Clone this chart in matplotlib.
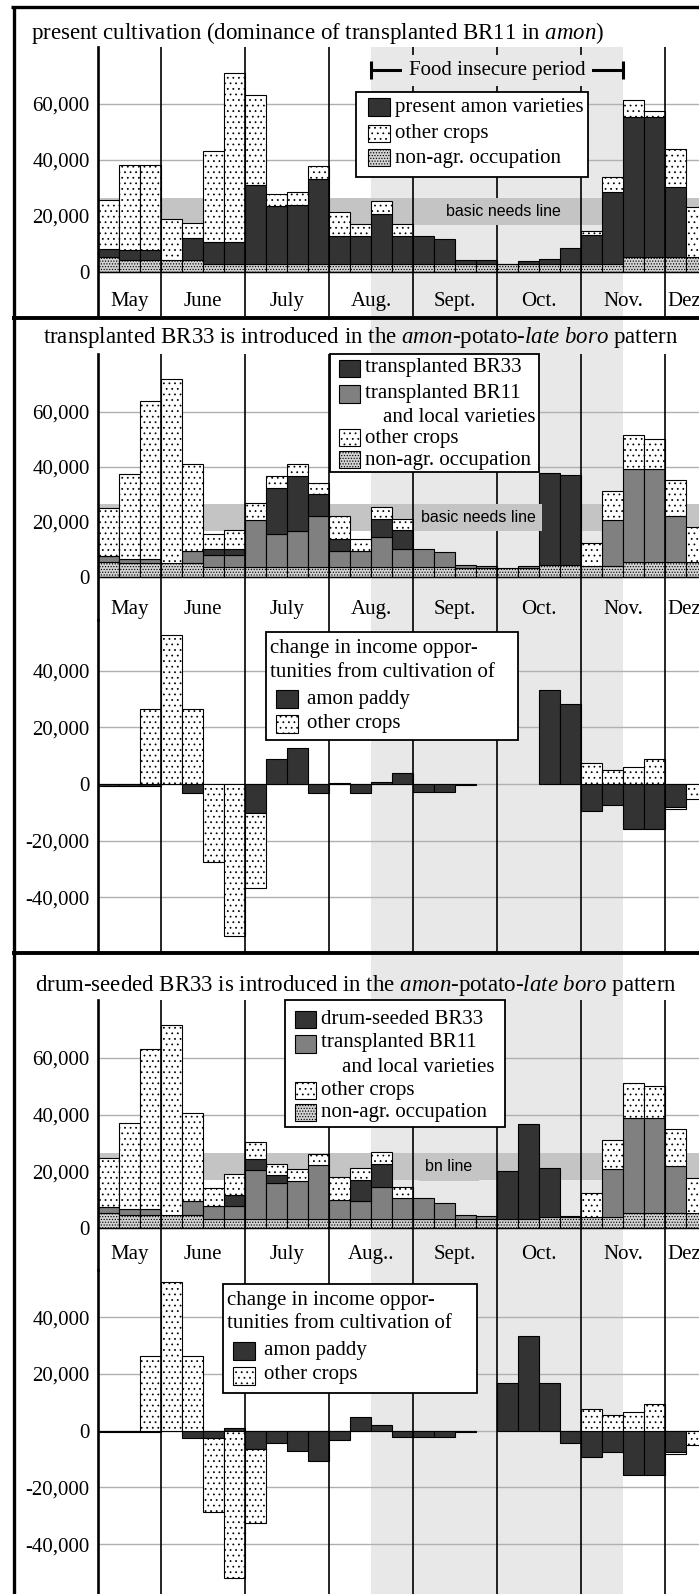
import numpy as np
import matplotlib
matplotlib.use('Agg')
import matplotlib.pyplot as plt
from matplotlib.patches import Rectangle

plt.rcParams['font.family'] = ['Liberation Serif', 'DejaVu Serif']
plt.rcParams['mathtext.fontset'] = 'custom'
plt.rcParams['mathtext.rm'] = 'Liberation Serif'
plt.rcParams['mathtext.it'] = 'Liberation Serif:italic'
plt.rcParams['hatch.linewidth'] = 0.55

# ---- data (one bar per week, May w1 .. Dez w2) ----
months = ['May', 'June', 'July', 'Aug.', 'Sept.', 'Oct.', 'Nov.', 'Dez']
months_p4 = ['May', 'June', 'July', 'Aug..', 'Sept.', 'Oct.', 'Nov.', 'Dez']
month_starts = [0, 3, 7, 11, 15, 19, 23, 27]
month_ends = [3, 7, 11, 15, 19, 23, 27, 31]
food_insecure = (13, 25)
basic_needs = (16800, 26500)

p1_nonagr = [5400, 4400, 4400, 4400, 4400, 3000, 3000, 3000, 3000, 3000, 3000, 3000, 3000, 3000, 3000,
             3000, 3000, 2800, 2800, 2800, 2800, 3000, 3000, 3000, 3000, 5400, 5400, 5400, 5400]
p1_amon = [2900, 3300, 3300, 0, 7800, 7800, 7800, 28200, 20500, 21100, 30400, 9700, 9700, 17800, 9700,
           9900, 8800, 1600, 1400, 200, 1100, 1750, 5700, 10200, 25700, 49800, 49800, 24900, 0]
p1_other = [17600, 30700, 30700, 14600, 5300, 32300, 60200, 32100, 4400, 4400, 4300, 8700, 4300, 4400, 4300,
            0, 0, 0, 0, 0, 0, 0, 0, 1400, 5200, 6300, 2400, 13700, 17800]

p2_nonagr = [5300, 5100, 5100, 5100, 5100, 3500, 3500, 3500, 3500, 3500, 3500, 3500, 3500, 3500, 3500,
             3500, 3500, 3300, 3300, 3300, 3300, 4500, 4500, 4100, 4100, 5300, 5300, 5300, 5300]
p2_br11 = [2200, 1400, 1400, 0, 4200, 4600, 4600, 17300, 12300, 13100, 18600, 6100, 5800, 10900, 6800,
           6800, 5500, 1200, 800, 0, 600, 0, 0, 0, 16700, 34000, 34000, 16800, 0]
p2_br33 = [0, 0, 0, 0, 0, 2100, 2100, 0, 16600, 20200, 8200, 4200, 0, 6700, 6900,
           0, 0, 0, 0, 0, 0, 33300, 32500, 0, 0, 0, 0, 0, 0]
p2_other = [17600, 31000, 57400, 67000, 31800, 5600, 7000, 6100, 4400, 4300, 3900, 8300, 4500, 4400, 3900,
            0, 0, 0, 0, 0, 0, 0, 0, 8300, 10300, 12500, 11000, 13000, 12700]

p3_amon = [-600, -600, -600, 0, -3000, 0, 0, -10300, 8900, 12700, -3300, 500, -3000, 800, 4000,
           -2700, -2700, -300, 0, 0, 0, 33200, 28200, -9400, -7400, -15800, -15800, -8200, 0]
p3_other = [0, 0, 26500, 52600, 26500, -27400, -53500, -26200, 0, 0, 0, 0, 0, 0, 0,
            0, 0, 0, 0, 0, 0, 0, 0, 7300, 4900, 5900, 9000, -700, -5400]

p4_nonagr = [5300, 4500, 4500, 4500, 4500, 3300, 3300, 3300, 3300, 3300, 3300, 3300, 3300, 3300, 3300,
             3300, 3300, 3300, 3300, 3300, 3300, 3900, 3900, 3900, 3900, 5300, 5300, 5300, 5300]
p4_br11 = [2100, 2300, 2300, 0, 4900, 4500, 4500, 17300, 12600, 13300, 18800, 6500, 6200, 11200, 7300,
           7300, 5500, 1200, 800, 0, 0, 0, 0, 0, 16800, 33600, 33600, 16600, 0]
p4_br33 = [0, 0, 0, 0, 0, 0, 3700, 3600, 2700, 0, 0, 0, 7600, 8000, 0,
           0, 0, 0, 0, 16800, 33500, 17300, 200, 0, 0, 0, 0, 0, 0]
p4_other = [17400, 30400, 56500, 67000, 31300, 6400, 7700, 6100, 4100, 4100, 4100, 8200, 4100, 4300, 3900,
            0, 0, 0, 0, 0, 0, 0, 0, 8400, 10500, 12400, 11100, 13000, 12500]

p5_amon = [-600, -600, -600, 0, -2700, -2700, 1000, -6500, -4500, -7100, -10700, -3300, 4900, 2000, -2100,
           -2100, -2100, -300, 0, 16700, 33400, 16700, -4500, -9200, -7400, -15600, -15600, -7600, 0]
p5_other = [0, 0, 26500, 52600, 26500, -26100, -52100, -26000, 0, 0, 0, 0, 0, 0, 0,
            0, 0, 0, 0, 0, 0, 0, 0, 7500, 5400, 6500, 9400, -700, -5100]

stack_ticks = [0, 20000, 40000, 60000]
stack_ticklabels = ['0', '20,000', '40,000', '60,000']
change_ticks = [-40000, -20000, 0, 20000, 40000]
change_ticklabels = ['-40,000', '-20,000', '0', '20,000', '40,000']

titles = ['present cultivation (dominance of transplanted BR11 in $\\mathit{amon}$)',
          'transplanted BR33 is introduced in the $\\mathit{amon}$-potato-$\\mathit{late\\ boro}$ pattern',
          'drum-seeded BR33 is introduced in the $\\mathit{amon}$-potato-$\\mathit{late\\ boro}$ pattern']
leg1 = ['present amon varieties', 'other crops', 'non-agr. occupation']
leg2 = ['transplanted BR33', 'transplanted BR11', 'and local varieties', 'other crops', 'non-agr. occupation']
leg4 = ['drum-seeded BR33', 'transplanted BR11', 'and local varieties', 'other crops', 'non-agr. occupation']
leg_change = ['change in income oppor-', 'tunities from cultivation of', 'amon paddy', 'other crops']

# ---- styles ----
SHADE = '#e8e8e8'
BAND = '#c4c4c4'
GRID = '#b0b0b0'
st_nonagr = dict(facecolor='#d2d2d2', edgecolor='black', hatch='......', linewidth=0.8)
st_dark = dict(facecolor='#333333', edgecolor='black', linewidth=0.8)
st_gray = dict(facecolor='#808080', edgecolor='black', linewidth=0.8)
st_other = dict(facecolor='white', edgecolor='black', hatch='...', linewidth=0.8)

W, H = 699, 1594
X0 = 98
XMAX = 28.62
FS = 15

fig = plt.figure(figsize=(W / 100, H / 100), dpi=100)
x = np.arange(len(p1_nonagr))


def make_axes(top, bottom, ylim):
    ax = fig.add_axes([X0 / W, 1 - bottom / H, (W - X0) / W, (bottom - top) / H])
    ax.set_facecolor('none')
    ax.set_xlim(0, XMAX)
    ax.set_ylim(*ylim)
    ax.set_xticks([])
    for s in ['right', 'bottom', 'top']:
        ax.spines[s].set_visible(False)
    ax.spines['left'].set_linewidth(1.9)
    ax.tick_params(axis='y', length=0, pad=6, labelsize=FS)
    for m in month_starts[1:]:
        ax.axvline(m, color='black', lw=1.2, zorder=3)
    return ax


def stacked(ax, series, styles):
    bottom = np.zeros(len(x))
    for vals, st in zip(series, styles):
        vals = np.array(vals, dtype=float)
        m = vals > 0
        ax.bar(x[m], vals[m], width=1, bottom=bottom[m], align='edge', zorder=2, **st)
        bottom += vals


def diverging(ax, series, styles):
    pos = np.zeros(len(x))
    neg = np.zeros(len(x))
    for vals, st in zip(series, styles):
        vals = np.array(vals, dtype=float)
        b = np.where(vals >= 0, pos, neg)
        m = vals != 0
        ax.bar(x[m], vals[m], width=1, bottom=b[m], align='edge', zorder=2, **st)
        pos += np.clip(vals, 0, None)
        neg += np.clip(vals, None, 0)


def stack_panel(ax, label_y, names, band_label, band_x):
    ax.spines['top'].set_linewidth(1.6)
    ax.set_yticks(stack_ticks)
    ax.set_yticklabels(stack_ticklabels)
    for t in stack_ticks[1:]:
        ax.axhline(t, color=GRID, lw=1, zorder=0.5)
    ax.axhspan(*basic_needs, color=BAND, lw=0, zorder=0.8)
    ax.axhline(0, color='black', lw=1, zorder=2.5)
    ax.text(band_x, sum(basic_needs) / 2, band_label, family=['Liberation Sans', 'DejaVu Sans'],
            fontsize=11.5, ha='center', va='center', zorder=5,
            bbox=dict(boxstyle='square,pad=0.4', facecolor=BAND, edgecolor='none'))
    for i, name in enumerate(names):
        if i < len(names) - 1:
            ax.text((month_starts[i] + month_ends[i]) / 2, label_y, name, fontsize=FS,
                    ha='center', va='center', zorder=4)
        else:
            ax.text(month_starts[i] + 0.1, label_y, name, fontsize=FS, ha='left', va='center', zorder=4)


def change_panel(ax):
    ax.set_yticks(change_ticks)
    ax.set_yticklabels(change_ticklabels)
    for t in change_ticks:
        ax.axhline(t, color=GRID, lw=1, zorder=0.5)


# background shading for the food insecure period
bg = fig.add_axes([X0 / W, 0, (W - X0) / W, 1 - 47 / H])
bg.set_xlim(0, XMAX)
bg.axvspan(*food_insecure, color=SHADE, lw=0)
bg.axis('off')
bg.set_zorder(-1)

# panel 1
ax1 = make_axes(47, 316, (-15700, 80360))
stacked(ax1, [p1_nonagr, p1_amon, p1_other], [st_nonagr, st_dark, st_other])
stack_panel(ax1, -10700, months, 'basic needs line', 19.3)
fy = 72000
ax1.plot(food_insecure, [fy, fy], color='black', lw=2.2, zorder=4, solid_capstyle='butt')
for fx in food_insecure:
    ax1.plot([fx, fx], [fy - 3200, fy + 3200], color='black', lw=2.2, zorder=4, solid_capstyle='butt')
ax1.text(sum(food_insecure) / 2, fy, 'Food insecure period', fontsize=FS, ha='center', va='center', zorder=5,
         bbox=dict(boxstyle='square,pad=0.3', facecolor=SHADE, edgecolor='none'))

# panel 2 + 3
ax2 = make_axes(354, 620, (-15640, 81090))
stacked(ax2, [p2_nonagr, p2_br11, p2_br33, p2_other], [st_nonagr, st_gray, st_dark, st_other])
stack_panel(ax2, -12000, months, 'basic needs line', 18.1)
ax3 = make_axes(620, 953, (-59600, 57850))
change_panel(ax3)
diverging(ax3, [p3_amon, p3_other], [st_dark, st_other])

# panel 4 + 5
ax4 = make_axes(1000, 1270, (-14800, 80420))
stacked(ax4, [p4_nonagr, p4_br11, p4_br33, p4_other], [st_nonagr, st_gray, st_dark, st_other])
stack_panel(ax4, -9500, months_p4, 'bn line', 16.7)
ax5 = make_axes(1270, 1594, (-57600, 56700))
change_panel(ax5)
diverging(ax5, [p5_amon, p5_other], [st_dark, st_other])

# overlay in pixel coordinates: frames, titles, legends
ov = fig.add_axes([0, 0, 1, 1])
ov.set_xlim(0, W)
ov.set_ylim(H, 0)
ov.axis('off')
ov.set_zorder(5)

ov.plot([11, W], [7, 7], color='black', lw=2.4, solid_capstyle='butt')
ov.plot([13.5, 13.5], [6, H], color='black', lw=2.4, solid_capstyle='butt')
for ys in [317.5, 953]:
    ov.plot([12, W], [ys, ys], color='black', lw=2.8, solid_capstyle='butt')

ov.text(318, 33, titles[0], fontsize=16.5, ha='center', va='center')
ov.text(361, 337, titles[1], fontsize=16.5, ha='center', va='center')
ov.text(356, 985, titles[2], fontsize=16.5, ha='center', va='center')


def box(x0, y0, x1, y1):
    ov.add_patch(Rectangle((x0, y0), x1 - x0, y1 - y0, facecolor='white', edgecolor='black', lw=1.3, zorder=10))


def swatch(x0, y0, x1, y1, st):
    ov.add_patch(Rectangle((x0, y0), x1 - x0, y1 - y0, zorder=11, **st))


def label(x0, y0, s):
    ov.text(x0, y0, s, fontsize=FS, ha='left', va='center', zorder=12)


# legend panel 1
box(356, 92, 588, 177)
for (y0, y1, yt), st, s in zip([(98, 116, 107), (125, 142, 133), (149, 166, 158)],
                               [st_dark, st_other, st_nonagr], leg1):
    swatch(368, y0, 390, y1, st)
    label(395, yt, s)

# legends panel 2 and 4
for bx, sx, tx, labels, rows in [
        ((330, 354, 539, 472), (339, 360), (365, 383), leg2,
         [(360, 377, 367), (385, 403, 393), (None, None, 417), (429, 446, 438), (451, 468, 460)]),
        ((285, 1000, 505, 1127), (295, 316), (321, 342), leg4,
         [(1011, 1028, 1019), (1035, 1053, 1043), (None, None, 1067), (1082, 1099, 1090), (1104, 1121, 1112)])]:
    box(*bx)
    styles = [st_dark, st_gray, None, st_other, st_nonagr]
    for (y0, y1, yt), st, s in zip(rows, styles, labels):
        if st is None:
            label(tx[1], yt, s)
        else:
            swatch(sx[0], y0, sx[1], y1, st)
            label(tx[0], yt, s)

# change legends panels 3 and 5
for (x0, y0, x1, y1) in [(266, 632, 518, 740), (223, 1284, 477, 1393)]:
    box(x0, y0, x1, y1)
    label(x0 + 4, y0 + 16, leg_change[0])
    label(x0 + 4, y0 + 40, leg_change[1])
    swatch(x0 + 10, y0 + 58, x0 + 32, y0 + 76, st_dark)
    label(x0 + 41, y0 + 67, leg_change[2])
    swatch(x0 + 10, y0 + 83, x0 + 32, y0 + 101, st_other)
    label(x0 + 41, y0 + 91, leg_change[3])

fig.savefig('out.png', dpi=100)
